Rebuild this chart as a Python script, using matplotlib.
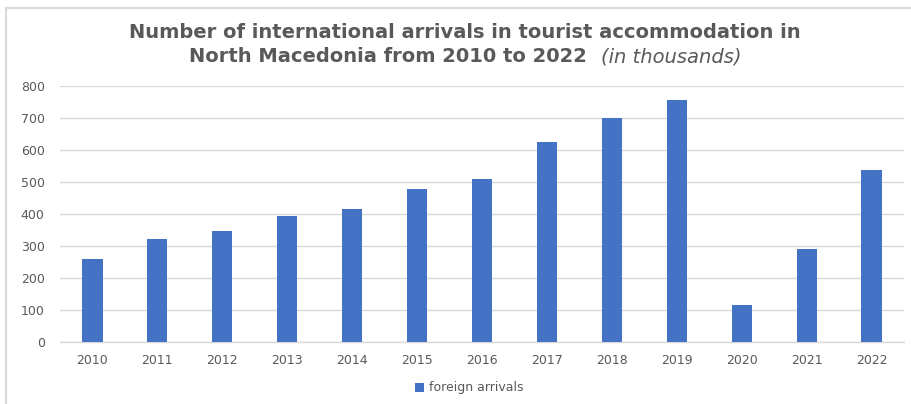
import matplotlib.pyplot as plt
from matplotlib.lines import Line2D
import numpy as np

# DATA (thousands of foreign arrivals)
years = ['2010', '2011', '2012', '2013', '2014', '2015', '2016',
         '2017', '2018', '2019', '2020', '2021', '2022']
arrivals = [258, 323, 346, 394, 417, 477, 508, 625, 701, 756, 116, 292, 536]
series_name = 'foreign arrivals'
y_ticks = [0, 100, 200, 300, 400, 500, 600, 700, 800]

bar_color = '#4472C4'
text_color = '#595959'
grid_color = '#D9D9D9'

plt.rcParams['font.family'] = ['DejaVu Sans']

W, H = 912, 404
fig = plt.figure(figsize=(W / 100, H / 100), dpi=100)

# outer chart frame: only the top and left edges fall inside the image
fx, fy = 6.5 / W, 1 - 7.5 / H
fig.add_artist(Line2D([fx, fx], [0, fy], transform=fig.transFigure,
                      color=grid_color, linewidth=1.5))
fig.add_artist(Line2D([fx, 1], [fy, fy], transform=fig.transFigure,
                      color=grid_color, linewidth=1.5))

ax = fig.add_axes([60 / W, 1 - 342 / H, (904 - 60) / W, (342 - 86) / H])
x = np.arange(len(years))
ax.bar(x, arrivals, width=0.31, color=bar_color, zorder=3, label=series_name)

ax.set_xlim(-0.5, len(years) - 0.5)
ax.set_ylim(0, 800)
ax.set_yticks(y_ticks)
ax.set_xticks(x)
ax.set_xticklabels(years)
ax.yaxis.grid(True, color=grid_color, linewidth=1.0)
ax.set_axisbelow(True)
for s in ['top', 'right', 'left']:
    ax.spines[s].set_visible(False)
ax.spines['bottom'].set_color(grid_color)
ax.spines['bottom'].set_linewidth(1.0)
ax.tick_params(axis='both', length=0, labelsize=9, labelcolor=text_color)
ax.tick_params(axis='y', pad=11)
ax.tick_params(axis='x', pad=9)

# title, two lines, second with italic unit note
title_size = 14
fig.text(465 / W, 1 - 32 / H,
         'Number of international arrivals in tourist accommodation in',
         ha='center', va='center', fontsize=title_size, fontweight='bold',
         color=text_color)
t_bold = fig.text(0, 1 - 57 / H, 'North Macedonia from 2010 to 2022',
                  ha='left', va='center', fontsize=title_size,
                  fontweight='bold', color=text_color)
t_ital = fig.text(0, 1 - 57 / H, '(in thousands)',
                  ha='left', va='center', fontsize=title_size,
                  style='italic', color=text_color)
fig.canvas.draw()
r = fig.canvas.get_renderer()
wb = t_bold.get_window_extent(r).width
wi = t_ital.get_window_extent(r).width
gap = 14
x0 = 465 - (wb + gap + wi) / 2
t_bold.set_x(x0 / W)
t_ital.set_x((x0 + wb + gap) / W)

leg = fig.legend(loc='center', bbox_to_anchor=(469 / W, 1 - 388 / H),
                 frameon=False, fontsize=9, handlelength=0.7,
                 handleheight=0.7, handletextpad=0.4)
for t in leg.get_texts():
    t.set_color(text_color)

plt.savefig('out.png', dpi=100)
plt.close()
